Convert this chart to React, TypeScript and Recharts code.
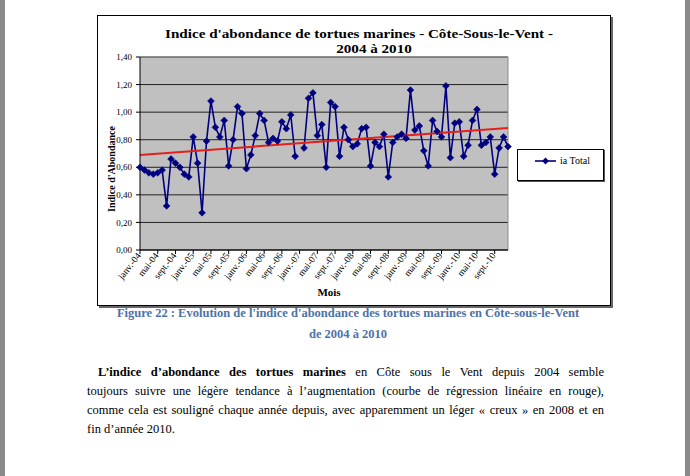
import React from 'react';
import { LineChart, Line, XAxis, YAxis, CartesianGrid, Legend, ReferenceLine } from 'recharts';

// Month labels (Excel French "mmm-yy" format)
const monthNames = ['janv.', 'févr.', 'mars', 'avr.', 'mai', 'juin', 'juil.', 'août', 'sept.', 'oct.', 'nov.', 'déc.'];
const years = ['04', '05', '06', '07', '08', '09', '10'];

// "ia Total" values, one array per year (janv. -> déc.)
const ia2004 = [0.60, 0.58, 0.56, 0.55, 0.56, 0.58, 0.32, 0.66, 0.63, 0.60, 0.55, 0.53];
const ia2005 = [0.82, 0.63, 0.27, 0.79, 1.08, 0.89, 0.82, 0.94, 0.61, 0.80, 1.04, 0.99];
const ia2006 = [0.59, 0.69, 0.83, 0.99, 0.94, 0.78, 0.81, 0.79, 0.93, 0.88, 0.98, 0.68];
const ia2007 = [null, 0.74, 1.10, 1.14, 0.83, 0.91, 0.60, 1.07, 1.04, 0.68, 0.89, 0.80];
const ia2008 = [0.75, 0.77, 0.88, 0.89, 0.61, 0.78, 0.75, 0.84, 0.53, 0.78, 0.82, 0.84];
const ia2009 = [0.81, 1.16, 0.87, 0.90, 0.72, 0.61, 0.94, 0.86, 0.82, 1.19, 0.67, 0.92];
const ia2010 = [0.93, 0.68, 0.76, 0.94, 1.02, 0.76, 0.78, 0.82, 0.55, 0.74, 0.82, 0.75];

const yTicks = [0, 0.2, 0.4, 0.6, 0.8, 1.0, 1.2, 1.4];

// linear regression line (red), ends
const trendStart = 0.69;
const trendEnd = 0.885;

const iaByYear = [ia2004, ia2005, ia2006, ia2007, ia2008, ia2009, ia2010];
const data = years.flatMap((yy, yi) =>
  monthNames.map((m, mi) => ({ month: `${m}-${yy}`, ia: iaByYear[yi][mi] }))
);
const firstMonth = data[0].month;
const lastMonth = data[data.length - 1].month;

const NAVY = '#000080';
const SERIF = '"Liberation Serif", "Times New Roman", serif';

const Diamond = (props: any) => {
  const { cx, cy, value } = props;
  if (value == null || cx == null || cy == null) return <g />;
  const r = 3.4;
  return (
    <path
      d={`M${cx},${cy - r}L${cx + r},${cy}L${cx},${cy + r}L${cx - r},${cy}Z`}
      fill={NAVY}
      stroke={NAVY}
      strokeWidth={0.6}
    />
  );
};

const MonthTick = (props: any) => {
  const { x, y, payload } = props;
  return (
    <g transform={`translate(${x - 1},${y - 2})`}>
      <text x={0} y={0} dy={3} textAnchor="end" transform="rotate(-52)" fontSize={9.5} fontFamily={SERIF} fill="#000">
        {payload.value}
      </text>
    </g>
  );
};

const LegendBox = () => (
  <div
    style={{
      width: 87,
      height: 32,
      boxSizing: 'border-box',
      border: '1px solid #000',
      boxShadow: '1px 1px 0 #555',
      background: '#fff',
      display: 'flex',
      alignItems: 'flex-start',
      paddingTop: 5,
      paddingLeft: 17,
      fontFamily: SERIF,
      fontSize: 10,
      color: '#000',
    }}
  >
    <svg width={22} height={12} style={{ marginRight: 3 }}>
      <line x1={0} y1={6} x2={21} y2={6} stroke={NAVY} strokeWidth={1.6} />
      <path d="M10.5,2.6L13.9,6L10.5,9.4L7.1,6Z" fill={NAVY} />
    </svg>
    <span style={{ lineHeight: '12px' }}>ia Total</span>
  </div>
);

export default function App() {
  return (
    <div
      style={{
        position: 'absolute',
        left: 0,
        top: 0,
        width: 690,
        height: 476,
        background: '#fff',
        overflow: 'hidden',
        fontFamily: SERIF,
      }}
    >
      {/* page edges */}
      <div style={{ position: 'absolute', left: 0, top: 0, width: 5, height: 476, background: '#8a8a8a' }} />
      <div style={{ position: 'absolute', left: 685, top: 0, width: 5, height: 476, background: '#8a8a8a' }} />

      {/* chart frame */}
      <div
        style={{
          position: 'absolute',
          left: 97,
          top: 15,
          width: 514,
          height: 291,
          boxSizing: 'border-box',
          border: '1px solid #000',
          boxShadow: '2px 2px 0 #666',
          background: '#fff',
        }}
      />

      {/* chart title */}
      <div style={{ position: 'absolute', left: 159, top: 26, width: 400, textAlign: 'center', fontSize: 13.5, fontWeight: 'bold', lineHeight: '16px', whiteSpace: 'nowrap', transform: 'scaleX(1.12)' }}>
        Indice d'abondance de tortues marines - Côte-Sous-le-Vent -
      </div>
      <div style={{ position: 'absolute', left: 274, top: 41, width: 200, textAlign: 'center', fontSize: 13.5, fontWeight: 'bold', lineHeight: '16px', transform: 'scaleX(1.12)' }}>
        2004 à 2010
      </div>

      <div style={{ position: 'absolute', left: 0, top: 0 }}>
        <LineChart
          width={690}
          height={476}
          data={data}
          margin={{ top: 57, right: 182, bottom: 176, left: 100 }}
        >
          <CartesianGrid
            vertical={false}
            stroke="#222"
            strokeWidth={1}
            fill="#c0c0c0"
            fillOpacity={1}
          />
          <XAxis
            dataKey="month"
            interval={3}
            tickSize={4}
            tick={<MonthTick />}
            axisLine={{ stroke: '#000' }}
            tickLine={{ stroke: '#000' }}
            height={50}
          />
          <YAxis
            domain={[0, 1.4]}
            ticks={yTicks}
            width={40}
            tickSize={4}
            tickMargin={4}
            tickFormatter={(v: number) => v.toFixed(2).replace('.', ',')}
            tick={{ fontSize: 9, fontFamily: SERIF, fill: '#000' }}
            axisLine={{ stroke: '#000' }}
            tickLine={{ stroke: '#000' }}
          />
          <ReferenceLine y={1.4} stroke="#8c8c8c" strokeWidth={1} />
          <ReferenceLine x={lastMonth} stroke="#8c8c8c" strokeWidth={1} />
          <Legend
            layout="horizontal"
            verticalAlign="middle"
            align="center"
            wrapperStyle={{ left: 517, top: 149, width: 88, height: 33 }}
            content={() => <LegendBox />}
          />
          <Line
            type="linear"
            dataKey="ia"
            name="ia Total"
            stroke={NAVY}
            strokeWidth={1.6}
            dot={<Diamond />}
            activeDot={false}
            connectNulls={false}
            isAnimationActive={false}
          />
          <ReferenceLine
            segment={[
              { x: firstMonth, y: trendStart },
              { x: lastMonth, y: trendEnd },
            ]}
            stroke="#e3201b"
            strokeWidth={2}
          />
        </LineChart>
      </div>

      {/* axis titles */}
      <div
        style={{
          position: 'absolute',
          left: 111,
          top: 169,
          transform: 'translate(-50%, -50%) rotate(-90deg)',
          fontSize: 10,
          fontWeight: 'bold',
          whiteSpace: 'nowrap',
        }}
      >
        Indice d'Abondance
      </div>
      <div style={{ position: 'absolute', left: 279, top: 285, width: 100, textAlign: 'center', fontSize: 11, fontWeight: 'bold', lineHeight: '14px' }}>
        Mois
      </div>

      {/* figure caption */}
      <div style={{ position: 'absolute', left: 100, top: 303, width: 496, textAlign: 'center', fontSize: 12.5, fontWeight: 'bold', color: '#4d72a8', lineHeight: '20px', whiteSpace: 'nowrap' }}>
        Figure 22 : Evolution de l'indice d'abondance des tortues marines en Côte-sous-le-Vent
      </div>
      <div style={{ position: 'absolute', left: 100, top: 324, width: 496, textAlign: 'center', fontSize: 12.5, fontWeight: 'bold', color: '#4d72a8', lineHeight: '20px' }}>
        de 2004 à 2010
      </div>

      {/* body text */}
      <div style={{ position: 'absolute', left: 98, top: 363, width: 506, fontSize: 12.5, lineHeight: '19px', textAlign: 'justify', textAlignLast: 'justify', whiteSpace: 'nowrap' }}>
        <b>L’indice d’abondance des tortues marines</b> en Côte sous le Vent depuis 2004 semble
      </div>
      <div style={{ position: 'absolute', left: 87, top: 382, width: 517, fontSize: 12.5, lineHeight: '19px', textAlign: 'justify', textAlignLast: 'justify', whiteSpace: 'nowrap' }}>
        toujours suivre une légère tendance à l’augmentation (courbe de régression linéaire en rouge),
      </div>
      <div style={{ position: 'absolute', left: 87, top: 401, width: 517, fontSize: 12.5, lineHeight: '19px', textAlign: 'justify', textAlignLast: 'justify', whiteSpace: 'nowrap' }}>
        comme cela est souligné chaque année depuis, avec apparemment un léger « creux » en 2008 et en
      </div>
      <div style={{ position: 'absolute', left: 87, top: 420, width: 517, fontSize: 12.5, lineHeight: '19px' }}>
        fin d’année 2010.
      </div>
    </div>
  );
}
